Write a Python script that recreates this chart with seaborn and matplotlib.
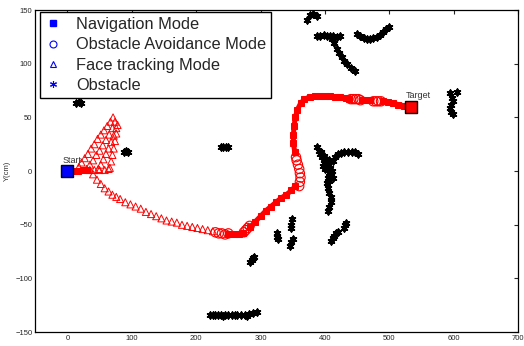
import pandas as pd
import matplotlib
matplotlib.use("Agg")
import matplotlib.pyplot as plt
import seaborn as sns
from matplotlib.lines import Line2D

# Navigation mode path (red squares); seg keeps separate runs apart
nav_x = [0, 8, 16, 24, 30,
         250, 258, 266, 272,
         284, 292, 300, 308, 316, 324, 332, 340, 348, 354,
         353, 351, 351, 352, 354, 357, 362, 368, 376, 384, 392, 400, 408, 416, 424, 432, 438,
         458, 464, 470,
         490, 498, 506, 514, 522, 530]
nav_y = [0, 0, 0, 1, 1,
         -59, -59, -59, -58,
         -52, -47, -42, -37, -33, -29, -25, -22, -18, -14,
         18, 26, 34, 42, 50, 57, 63, 67, 69, 70, 70, 70, 70, 69, 69, 68, 67,
         66, 66, 66,
         65, 64, 63, 62, 61, 60]
nav_seg = [1] * 5 + [2] * 4 + [3] * 10 + [4] * 17 + [5] * 3 + [6] * 6

# Obstacle avoidance mode (red circles)
avoid_x = [230, 235, 240, 245, 250,
           274, 277, 280, 283,
           360, 361, 362, 361, 360, 358, 356, 355,
           440, 444, 448, 452, 455,
           475, 479, 483, 487]
avoid_y = [-57, -58, -58, -59, -58,
           -57, -55, -53, -51,
           -14, -10, -6, -2, 2, 6, 10, 13,
           67, 67, 67, 67, 66,
           65, 65, 65, 65]

# Face tracking mode (red triangles): wedge near the start, then the curve
face_x = [18, 22, 27, 32, 37, 42, 47, 52, 57, 62, 67, 71,
          30, 35, 40, 45, 50, 55, 60, 65, 70, 74,
          48, 52, 56, 60, 64, 68, 72, 76,
          66, 68, 70, 72, 74, 76, 78,
          35, 42, 50, 58, 64,
          40, 46, 52, 58, 64, 70, 76, 82, 90, 98, 106, 114, 122, 130, 138, 146,
          154, 162, 170, 178, 186, 194, 202, 210, 218, 226]
face_y = [4, 8, 12, 16, 21, 25, 30, 34, 38, 42, 46, 50,
          2, 6, 10, 15, 19, 24, 29, 34, 40, 46,
          2, 6, 11, 16, 21, 27, 33, 40,
          3, 9, 15, 21, 28, 35, 43,
          1, 1, 1, 1, 2,
          -3, -8, -12, -16, -19, -22, -24, -26, -29, -31, -33, -35, -38, -40, -42, -44,
          -46, -47, -48, -50, -51, -52, -53, -54, -55, -56]

# Obstacles (black asterisks)
obs_x = [14, 18, 22,
         88, 91, 94,
         238, 242, 246, 249,
         372, 377, 382, 387,
         388, 393, 398, 403, 408, 413, 418, 424,
         411, 414, 418, 422, 426, 430, 434, 440, 446,
         450, 455, 460, 465, 470, 475, 481, 486, 490, 495, 500,
         387, 390, 393, 395, 398, 400, 402, 404, 406, 409, 412, 400, 397, 403, 407, 412,
         394, 398, 401, 405, 408, 411, 404, 407, 410,
         416, 420, 425, 430, 436, 442, 447, 451, 403, 404, 407, 410, 409, 407, 405,
         349, 347, 348, 350, 348, 346,
         325, 326, 327,
         284, 286, 288, 290,
         430, 431, 433,
         410, 412, 414, 417, 420,
         222, 226, 230, 234, 238, 242, 245, 250, 256, 260, 264, 270, 276, 279, 282, 288, 294,
         594, 605, 597, 599, 595, 594, 596, 598]
obs_y = [63, 64, 63,
         18, 19, 18,
         22, 22, 22, 22,
         141, 145, 146, 144,
         126, 126, 127, 126, 126, 126, 125, 126,
         123, 119, 114, 110, 106, 103, 100, 96, 93,
         128, 126, 124, 123, 123, 124, 125, 127, 130, 132, 134,
         22, 19, 16, 13, 10, 7, 4, 1, -2, -4, -6, 2, 5, 8, 10, 9,
         18, 14, 11, 5, 3, 0, -6, -9, -2,
         13, 16, 17, 18, 18, 18, 18, 16, -11, -16, -20, -24, -29, -33, -37,
         -45, -50, -53, -63, -66, -70,
         -58, -61, -63,
         -85, -83, -81, -80,
         -53, -50, -48,
         -65, -62, -60, -58, -57,
         -134, -134, -134, -134, -134, -135, -134, -134, -134, -134, -134, -134, -134, -135, -133, -132, -131,
         73, 74, 68, 65, 62, 59, 55, 53]

start_xy = (0, 0)
target_xy = (533, 60)
legend_labels = ["Navigation Mode", "Obstacle Avoidance Mode",
                 "Face tracking Mode", "Obstacle"]

nav = pd.DataFrame({"x": nav_x, "y": nav_y, "seg": nav_seg})
avoid = pd.DataFrame({"x": avoid_x, "y": avoid_y})
face = pd.DataFrame({"x": face_x, "y": face_y})
obs = pd.DataFrame({"x": obs_x, "y": obs_y})

sns.set_style("white")
plt.rcParams["font.family"] = ["Liberation Sans", "DejaVu Sans"]

fig = plt.figure(figsize=(5.24, 3.46), dpi=100)
ax = fig.add_axes([0.067, 0.040, 0.922, 0.931])

# obstacles
sns.scatterplot(data=obs, x="x", y="y", ax=ax, marker=(6, 2, 0),
                color="black", edgecolor="black", s=20, linewidth=1.4,
                legend=False, zorder=2)

# face tracking
sns.scatterplot(data=face, x="x", y="y", ax=ax, marker="^",
                facecolor="none", edgecolor="red", s=26, linewidth=0.7,
                legend=False, zorder=3)

# navigation
sns.lineplot(data=nav, x="x", y="y", units="seg", estimator=None, sort=False,
             ax=ax, color="red", lw=3.6, marker="s", ms=4.5, mec="red",
             legend=False, zorder=4)

# obstacle avoidance
sns.scatterplot(data=avoid, x="x", y="y", ax=ax, marker="o",
                facecolor="none", edgecolor="red", s=45, linewidth=0.8,
                legend=False, zorder=5)

# start / target markers
ax.plot(*start_xy, marker="s", ms=8, mfc="blue", mec="black", mew=1, zorder=6)
ax.plot(*target_xy, marker="s", ms=9, mfc="red", mec="black", mew=1, zorder=6)
ax.text(-8, 6, "Start", fontsize=6.5, color="#333333", ha="left", va="bottom")
ax.text(525, 66, "Target", fontsize=6.5, color="#333333", ha="left", va="bottom")

ax.set_xlim(-50, 700)
ax.set_ylim(-150, 150)
ax.set_xticks(range(0, 701, 100))
ax.set_yticks(range(-150, 151, 50))
ax.set_xlabel("")
ax.set_ylabel("Y(cm)", fontsize=5.5, labelpad=3, color="#333333")
ax.tick_params(direction="in", length=3, width=0.8, labelsize=5.5,
               top=True, right=True, pad=2)
for sp in ax.spines.values():
    sp.set_color("black")
    sp.set_linewidth(0.9)

handles = [
    Line2D([], [], ls="none", marker="s", ms=5, mfc="blue", mec="blue"),
    Line2D([], [], ls="none", marker="o", ms=5, mfc="none", mec="blue", mew=0.8),
    Line2D([], [], ls="none", marker="^", ms=5, mfc="none", mec="blue", mew=0.8),
    Line2D([], [], ls="none", marker=(6, 2, 0), ms=5, color="blue", mew=0.8),
]
leg = ax.legend(handles, legend_labels, loc="upper left",
                bbox_to_anchor=(0.010, 0.994), borderaxespad=0,
                fontsize=11.8, frameon=True, fancybox=False, framealpha=1,
                edgecolor="black", handlelength=1.0, handletextpad=0.9,
                labelspacing=0.33, borderpad=0.3)
leg.get_frame().set_linewidth(1.0)

fig.savefig("out.png", dpi=100)
